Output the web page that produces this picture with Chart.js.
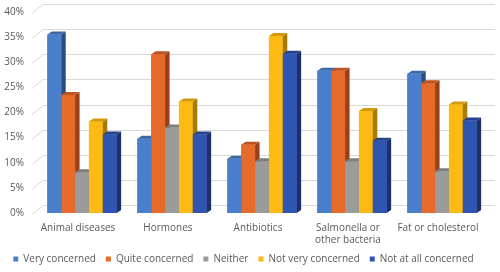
<!DOCTYPE html>
<html>
<head>
<meta charset="utf-8">
<script src="https://cdn.jsdelivr.net/npm/chart.js@4/dist/chart.umd.min.js"></script>
<style>
  html, body { margin: 0; padding: 0; background: #fff; }
  #wrap { width: 500px; height: 272px; }
</style>
</head>
<body>
<div id="wrap"><canvas id="bar-chart" width="500" height="272"></canvas></div>
<script>
const categories = ['Animal diseases', 'Hormones', 'Antibiotics', ['Salmonella or', 'other bacteria'], 'Fat or cholesterol'];
const seriesNames = ['Very concerned', 'Quite concerned', 'Neither', 'Not very concerned', 'Not at all concerned'];
const veryConcerned = [35.5, 14.8, 10.8, 28.3, 27.7];
const quiteConcerned = [23.5, 31.6, 13.6, 28.3, 25.8];
const neither = [8.1, 17, 10.3, 10.3, 8.3];
const notVeryConcerned = [18.2, 22.2, 35.2, 20.3, 21.6];
const notAtAllConcerned = [15.6, 15.6, 31.7, 14.4, 18.4];
const yTicks = [0, 5, 10, 15, 20, 25, 30, 35, 40];

const faceColors = ['#4a80cb', '#e66a2a', '#9b9b9b', '#fdba12', '#2f55b2'];
const sideColors = ['#2a4c7e', '#98401a', '#666666', '#a57a06', '#1c316b'];
const topColors = ['#3b67a6', '#bd5321', '#7d7d7d', '#d29a0c', '#25418c'];

const allValues = [veryConcerned, quiteConcerned, neither, notVeryConcerned, notAtAllConcerned];

// back wall offset and bar depth
const WALL_DX = 11, WALL_DY = 8;
const BAR_DX = 4.5, BAR_DY = 3;

const backWall = {
  id: 'backWall',
  beforeDatasetsDraw(chart) {
    const { ctx, chartArea, scales } = chart;
    ctx.save();
    ctx.strokeStyle = '#d9d9d9';
    ctx.lineWidth = 1;
    yTicks.forEach((t) => {
      const y = Math.round(scales.y.getPixelForValue(t)) + 0.5;
      ctx.beginPath();
      ctx.moveTo(chartArea.left - 5, y + 1);
      ctx.lineTo(chartArea.left - 5 + WALL_DX, y - WALL_DY);
      ctx.lineTo(chartArea.right + 8, y - WALL_DY);
      ctx.stroke();
    });
    ctx.restore();
  },
};

const bars3d = {
  id: 'bars3d',
  afterDatasetsDraw(chart) {
    const { ctx } = chart;
    ctx.save();
    for (let c = 0; c < categories.length; c++) {
      chart.data.datasets.forEach((ds, i) => {
        const bar = chart.getDatasetMeta(i).data[c];
        const { x, y, base, width } = bar.getProps(['x', 'y', 'base', 'width'], true);
        const l = x - width / 2, r = x + width / 2;
        ctx.fillStyle = faceColors[i];
        ctx.fillRect(l, y, width, base - y);
        ctx.fillStyle = sideColors[i];
        ctx.beginPath();
        ctx.moveTo(r, y);
        ctx.lineTo(r + BAR_DX, y - BAR_DY);
        ctx.lineTo(r + BAR_DX, base - BAR_DY);
        ctx.lineTo(r, base);
        ctx.closePath();
        ctx.fill();
        ctx.fillStyle = topColors[i];
        ctx.beginPath();
        ctx.moveTo(l, y);
        ctx.lineTo(l + BAR_DX, y - BAR_DY);
        ctx.lineTo(r + BAR_DX, y - BAR_DY);
        ctx.lineTo(r, y);
        ctx.closePath();
        ctx.fill();
      });
    }
    ctx.restore();
  },
};

new Chart(document.getElementById('bar-chart'), {
  type: 'bar',
  data: {
    labels: categories,
    datasets: seriesNames.map((name, i) => ({
      label: name,
      data: allValues[i],
      backgroundColor: faceColors[i],
      borderWidth: 0,
      barPercentage: 1,
      categoryPercentage: 0.77,
    })),
  },
  options: {
    responsive: false,
    animation: false,
    layout: {
      padding: { top: 12, right: 13, left: 0, bottom: -2 },
    },
    scales: {
      x: {
        grid: { display: false, drawTicks: false },
        border: { display: false },
        afterFit: (scale) => { scale.height = 31; },
        ticks: {
          color: '#595959',
          font: { family: 'Open Sans', size: 10 },
          maxRotation: 0,
          autoSkip: false,
          padding: 9,
          labelOffset: -4,
        },
      },
      y: {
        min: 0,
        max: 40,
        grid: { display: false, drawTicks: false },
        border: { display: false },
        afterFit: (scale) => {
          scale.width = 37;
          scale.paddingTop = 0;
          scale.paddingBottom = 0;
        },
        ticks: {
          stepSize: 5,
          color: '#595959',
          padding: 13,
          font: { family: 'Open Sans', size: 10 },
          callback: (v) => v + '%',
        },
      },
    },
    plugins: {
      legend: {
        position: 'bottom',
        labels: {
          color: '#595959',
          font: { family: 'Open Sans', size: 10 },
          boxWidth: 5,
          boxHeight: 5,
          padding: 10,
        },
      },
      tooltip: { enabled: false },
    },
  },
  plugins: [backWall, bars3d],
});
</script>
</body>
</html>
